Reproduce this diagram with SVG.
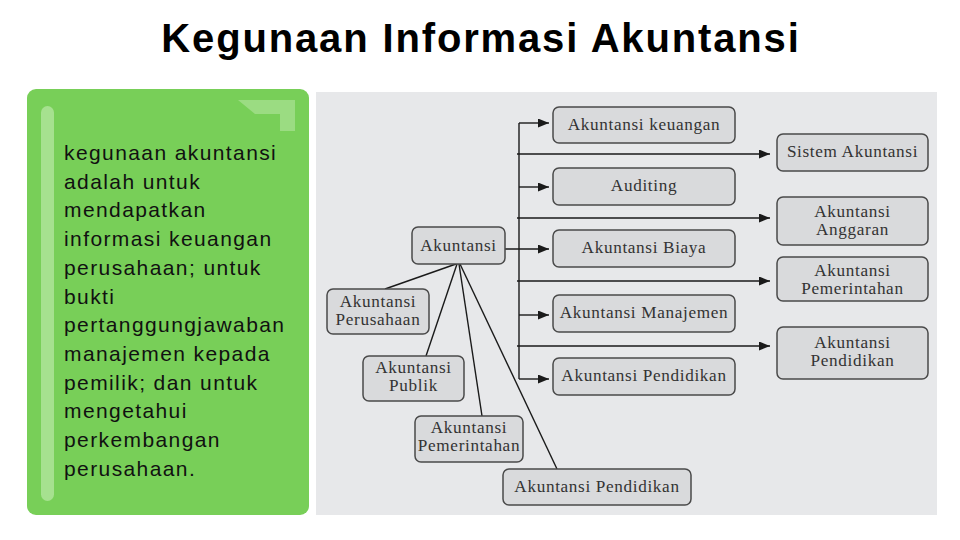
<svg xmlns="http://www.w3.org/2000/svg" width="960" height="540" viewBox="0 0 960 540">
  <defs>
    <style>
      .title { font-family: "Liberation Sans", Arial, sans-serif; font-weight: bold; font-size: 40px; fill: #000; letter-spacing: 1.85px; }
      .body { font-family: "Liberation Sans", Arial, sans-serif; font-size: 21px; fill: #111; letter-spacing: 1.4px; }
      .box { fill: #d9dadc; stroke: #4a4a4a; stroke-width: 1.5; }
      .lbl { font-family: "Liberation Serif", "Times New Roman", serif; font-size: 17.2px; fill: #333; text-anchor: middle; letter-spacing: 0.65px; }
      .conn { fill: none; stroke: #1a1a1a; stroke-width: 1.4; }
    </style>
    <marker id="arr" markerUnits="userSpaceOnUse" markerWidth="12" markerHeight="10" refX="11" refY="4.5" orient="auto">
      <path d="M0,0 L11,4.5 L0,9 Z" fill="#1a1a1a"/>
    </marker>
  </defs>

  <rect width="960" height="540" fill="#ffffff"/>

  <text class="title" x="481" y="52" text-anchor="middle">Kegunaan Informasi Akuntansi</text>

  <g id="panel-text">
    <rect x="27" y="89" width="282" height="426" rx="9" fill="#78cf58"/>
    <rect x="41" y="106" width="13" height="395" rx="6.5" fill="#a6e18f"/>
    <polygon points="238,100 295,100 295,131 280,131 280,114 255,114" fill="#9bdc82"/>
    <text class="body">
      <tspan x="64" y="160">kegunaan akuntansi</tspan>
      <tspan x="64" y="188.7">adalah untuk</tspan>
      <tspan x="64" y="217.4">mendapatkan</tspan>
      <tspan x="64" y="246.1">informasi keuangan</tspan>
      <tspan x="64" y="274.8">perusahaan; untuk</tspan>
      <tspan x="64" y="303.5">bukti</tspan>
      <tspan x="64" y="332.2">pertanggungjawaban</tspan>
      <tspan x="64" y="360.9">manajemen kepada</tspan>
      <tspan x="64" y="389.6">pemilik; dan untuk</tspan>
      <tspan x="64" y="418.3">mengetahui</tspan>
      <tspan x="64" y="447">perkembangan</tspan>
      <tspan x="64" y="475.7">perusahaan.</tspan>
    </text>
  </g>

  <rect x="316" y="92" width="621" height="423" fill="#e7e8ea"/>

  <g id="connectors">
    <path class="conn" d="M519,123 V379"/>
    <path class="conn" d="M519,123 H549" marker-end="url(#arr)"/>
    <path class="conn" d="M519,187 H549" marker-end="url(#arr)"/>
    <path class="conn" d="M505,249 H549" marker-end="url(#arr)"/>
    <path class="conn" d="M519,315 H549" marker-end="url(#arr)"/>
    <path class="conn" d="M519,379 H549" marker-end="url(#arr)"/>
    <path class="conn" d="M517,154 H770" marker-end="url(#arr)"/>
    <path class="conn" d="M517,218 H770" marker-end="url(#arr)"/>
    <path class="conn" d="M517,281 H770" marker-end="url(#arr)"/>
    <path class="conn" d="M517,346 H770" marker-end="url(#arr)"/>
    <path class="conn" d="M456,264 L385,289"/>
    <path class="conn" d="M457,264 L426,356"/>
    <path class="conn" d="M459,264 L482,416"/>
    <path class="conn" d="M460,264 L557,469"/>
  </g>

  <g id="n-akuntansi">
    <rect class="box" x="412" y="227" width="93" height="37" rx="6"/>
    <text class="lbl" x="458.5" y="251">Akuntansi</text>
  </g>
  <g id="n-keuangan">
    <rect class="box" x="553" y="107" width="182" height="36" rx="6"/>
    <text class="lbl" x="644" y="130">Akuntansi keuangan</text>
  </g>
  <g id="n-auditing">
    <rect class="box" x="553" y="168" width="182" height="37" rx="6"/>
    <text class="lbl" x="644" y="191">Auditing</text>
  </g>
  <g id="n-biaya">
    <rect class="box" x="553" y="230" width="182" height="37" rx="6"/>
    <text class="lbl" x="644" y="253">Akuntansi Biaya</text>
  </g>
  <g id="n-manajemen">
    <rect class="box" x="553" y="295" width="182" height="37" rx="6"/>
    <text class="lbl" x="644" y="318">Akuntansi Manajemen</text>
  </g>
  <g id="n-pendidikan-mid">
    <rect class="box" x="553" y="358" width="182" height="37" rx="6"/>
    <text class="lbl" x="644" y="381">Akuntansi Pendidikan</text>
  </g>
  <g id="n-sistem">
    <rect class="box" x="777" y="134" width="151" height="37" rx="6"/>
    <text class="lbl" x="852.5" y="157">Sistem Akuntansi</text>
  </g>
  <g id="n-anggaran">
    <rect class="box" x="777" y="197" width="151" height="48" rx="6"/>
    <text class="lbl" x="852.5" y="217">Akuntansi</text>
    <text class="lbl" x="852.5" y="235">Anggaran</text>
  </g>
  <g id="n-pemerintahan-right">
    <rect class="box" x="777" y="257" width="151" height="44" rx="6"/>
    <text class="lbl" x="852.5" y="276">Akuntansi</text>
    <text class="lbl" x="852.5" y="294">Pemerintahan</text>
  </g>
  <g id="n-pendidikan-right">
    <rect class="box" x="777" y="327" width="151" height="52" rx="6"/>
    <text class="lbl" x="852.5" y="348">Akuntansi</text>
    <text class="lbl" x="852.5" y="366">Pendidikan</text>
  </g>
  <g id="n-perusahaan">
    <rect class="box" x="327" y="289" width="102" height="45" rx="6"/>
    <text class="lbl" x="378" y="307">Akuntansi</text>
    <text class="lbl" x="378" y="325">Perusahaan</text>
  </g>
  <g id="n-publik">
    <rect class="box" x="363" y="356" width="101" height="45" rx="6"/>
    <text class="lbl" x="413.5" y="373">Akuntansi</text>
    <text class="lbl" x="413.5" y="391">Publik</text>
  </g>
  <g id="n-pemerintahan-left">
    <rect class="box" x="415" y="416" width="108" height="46" rx="6"/>
    <text class="lbl" x="469" y="433">Akuntansi</text>
    <text class="lbl" x="469" y="451">Pemerintahan</text>
  </g>
  <g id="n-pendidikan-bottom">
    <rect class="box" x="503" y="469" width="188" height="36" rx="6"/>
    <text class="lbl" x="597" y="492">Akuntansi Pendidikan</text>
  </g>
</svg>
